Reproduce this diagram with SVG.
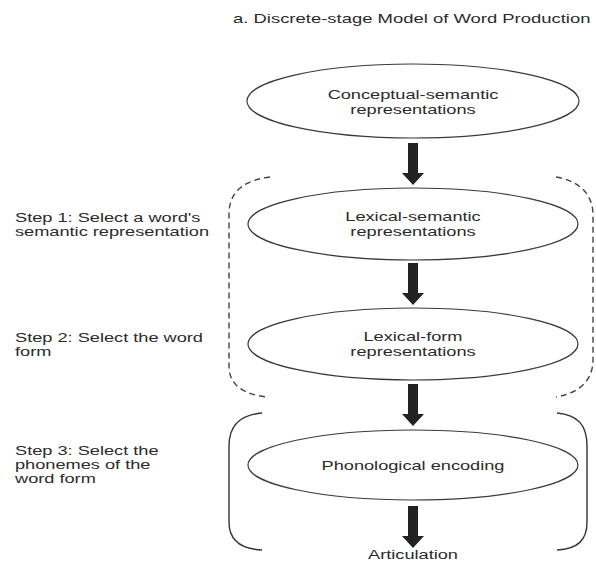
<svg xmlns="http://www.w3.org/2000/svg" width="596" height="562" viewBox="0 0 596 562">
<defs>
<style>
text{font-family:"Liberation Sans",Arial,sans-serif;font-size:13px;fill:#2b2b2b}
.c{text-anchor:middle}
.node ellipse{fill:#fff;stroke:#3a3a3a;stroke-width:1.2}
.arrow{fill:#222}
.dash{fill:none;stroke:#444;stroke-width:1.4;stroke-dasharray:6 4}
.solid{fill:none;stroke:#333;stroke-width:1.4}
</style>
<path id="arr" d="M-5,0 H5 V30 H11 L0,42 L-11,30 H-5 Z"/>
</defs>
<rect width="596" height="562" fill="#fff"/>

<text transform="translate(233,23) scale(1.42,1)">a. Discrete-stage Model of Word Production</text>

<g id="brackets">
<path class="dash" d="M270,177 C246,180 230,190 229,212 L229,368 C230,386 245,395 268,397"/>
<path class="dash" d="M556,177 C580,181 593,195 593,215 L593,362 C592,381 579,393 556,397"/>
<path class="solid" d="M262,413 C240,415 229,425 229,446 L229,522 C229,540 240,549 262,550"/>
<path class="solid" d="M557,413 C578,415 587,425 587,446 L587,522 C587,540 578,549 557,550"/>
</g>

<g id="labels">
<text transform="translate(15,222) scale(1.4,1)">Step 1: Select a word's</text>
<text transform="translate(15,236) scale(1.4,1)">semantic representation</text>
<text transform="translate(15,342) scale(1.4,1)">Step 2: Select the word</text>
<text transform="translate(15,356) scale(1.4,1)">form</text>
<text transform="translate(15,455) scale(1.4,1)">Step 3: Select the</text>
<text transform="translate(15,469) scale(1.4,1)">phonemes of the</text>
<text transform="translate(15,483) scale(1.4,1)">word form</text>
</g>

<g id="connectors">
<use href="#arr" class="arrow" x="413" y="143"/>
<use href="#arr" class="arrow" x="413" y="263"/>
<use href="#arr" class="arrow" x="413" y="384"/>
<use href="#arr" class="arrow" x="413" y="506"/>
</g>

<g id="conceptual" class="node">
<ellipse cx="413" cy="101" rx="166" ry="37"/>
<text class="c" transform="translate(413,99) scale(1.4,1)">Conceptual-semantic</text>
<text class="c" transform="translate(413,114) scale(1.4,1)">representations</text>
</g>

<g id="lexical-semantic" class="node">
<ellipse cx="413" cy="224" rx="165" ry="36"/>
<text class="c" transform="translate(413,221) scale(1.4,1)">Lexical-semantic</text>
<text class="c" transform="translate(413,236) scale(1.4,1)">representations</text>
</g>

<g id="lexical-form" class="node">
<ellipse cx="413" cy="344" rx="165" ry="36"/>
<text class="c" transform="translate(413,341) scale(1.4,1)">Lexical-form</text>
<text class="c" transform="translate(413,356) scale(1.4,1)">representations</text>
</g>

<g id="phonological" class="node">
<ellipse cx="413" cy="465" rx="165" ry="35"/>
<text class="c" transform="translate(413,470) scale(1.4,1)">Phonological encoding</text>
</g>

<g id="articulation" class="node">
<text class="c" transform="translate(413,559) scale(1.4,1)">Articulation</text>
</g>
</svg>
